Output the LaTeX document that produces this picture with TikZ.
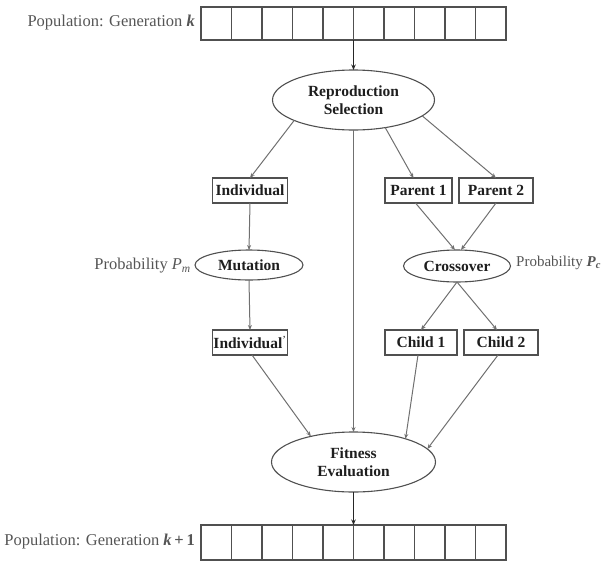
\documentclass[tikz,border=0pt]{standalone}
\usepackage{fontspec}
\setmainfont{Liberation Serif}
\usetikzlibrary{shapes.geometric,arrows.meta}
\definecolor{linegray}{HTML}{707070}
\definecolor{boxgray}{HTML}{505050}
\definecolor{labelgray}{HTML}{555555}
\definecolor{inktext}{HTML}{1E1E1E}
\tikzset{
  cell/.style={draw=boxgray, line width=1.3pt, minimum width=30.5pt, minimum height=33pt, inner sep=0pt, outer sep=0pt},
  boxnode/.style={draw=boxgray, line width=1.2pt, minimum height=25pt, inner sep=0pt, outer sep=0pt, font=\fontsize{15.5}{17}\selectfont\bfseries, text=inktext},
  ellnode/.style={ellipse, draw=boxgray, line width=1.1pt, inner sep=0pt, outer sep=0pt, font=\fontsize{15.5}{17}\selectfont\bfseries, text=inktext, align=center},
  outlabel/.style={font=\fontsize{16.5}{18}\selectfont, text=labelgray, inner sep=0pt},
  conn/.style={draw=linegray, line width=1pt, -{Stealth[length=5pt,width=4pt]}},
  mainconn/.style={draw=black!85, line width=1.3pt, -{Stealth[length=5.5pt,width=4.5pt]}}
}
\begin{document}
\begin{tikzpicture}[x=1pt,y=-1pt]
\useasboundingbox (0,0) rectangle (608,563);
% arrays
\foreach \i in {1,...,10} {
  \node[cell] (t\i) at ({201+30.5*(\i-0.5)},23.5) {};
  \node[cell, minimum height=35pt] (b\i) at ({201+30.5*(\i-0.5)},542.5) {};
}
\node[outlabel, anchor=east] (toplab) at (195,23) {Population: Generation \textbf{\textit{k}}};
\node[outlabel, anchor=east] (botlab) at (195,542) {Population: Generation \textbf{\textit{k}\,+\,1}};
% ellipses
\node[ellnode, minimum width=162pt, minimum height=60pt] (repro) at (353.5,100) {Reproduction\\[1pt]Selection};
\node[ellnode, minimum width=108pt, minimum height=30pt] (mut) at (249,265) {Mutation};
\node[ellnode, minimum width=107pt, minimum height=32pt] (cross) at (457,266) {Crossover};
\node[ellnode, minimum width=164pt, minimum height=60pt] (fit) at (353.5,462) {Fitness\\[1pt]Evaluation};
% boxes
\node[boxnode, minimum width=75pt] (ind) at (250,190.5) {Individual};
\node[boxnode, minimum width=75pt] (indp) at (250,342.5) {Individual\textsuperscript{\textmd{'}}};
\node[boxnode, minimum width=67pt] (p1) at (418.5,190.5) {Parent 1};
\node[boxnode, minimum width=74pt] (p2) at (496,190.5) {Parent 2};
\node[boxnode, minimum width=72pt] (c1) at (421,342.5) {Child 1};
\node[boxnode, minimum width=74pt] (c2) at (501,342.5) {Child 2};
% probability labels
\node[outlabel, anchor=east] (pm) at (191,266) {Probability \textit{P}\textsubscript{\textit{m}}};
\node[outlabel, anchor=west, font=\fontsize{15}{17}\selectfont] (pc) at (516,263) {Probability \textbf{\textit{P}\textsubscript{\textit{c}}}};
% connectors
\draw[mainconn] (t5.south east) -- (repro.north);
\draw[mainconn] (fit.south) -- (b5.north east);
\draw[conn] (repro.199) -- (ind.north);
\draw[conn] (repro.south) -- (fit.north);
\draw[conn] (repro.319) -- ([xshift=-5pt]p1.north);
\draw[conn] (repro.347) -- (p2.north);
\draw[conn] (ind.south) -- (mut.north);
\draw[conn] (mut.south) -- (indp.north);
\draw[conn] ([xshift=-3pt]p1.south) -- ([xshift=-2pt]cross.north);
\draw[conn] (p2.south) -- ([xshift=4pt]cross.north);
\draw[conn] (cross.south) -- (c1.north);
\draw[conn] (cross.south) -- ([xshift=-4pt]c2.north);
\draw[conn] ([xshift=2pt]indp.south) -- (fit.149);
\draw[conn] ([xshift=-3pt]c1.south) -- (fit.24);
\draw[conn] ([xshift=-3pt]c2.south) -- (fit.10);
\end{tikzpicture}
\end{document}
